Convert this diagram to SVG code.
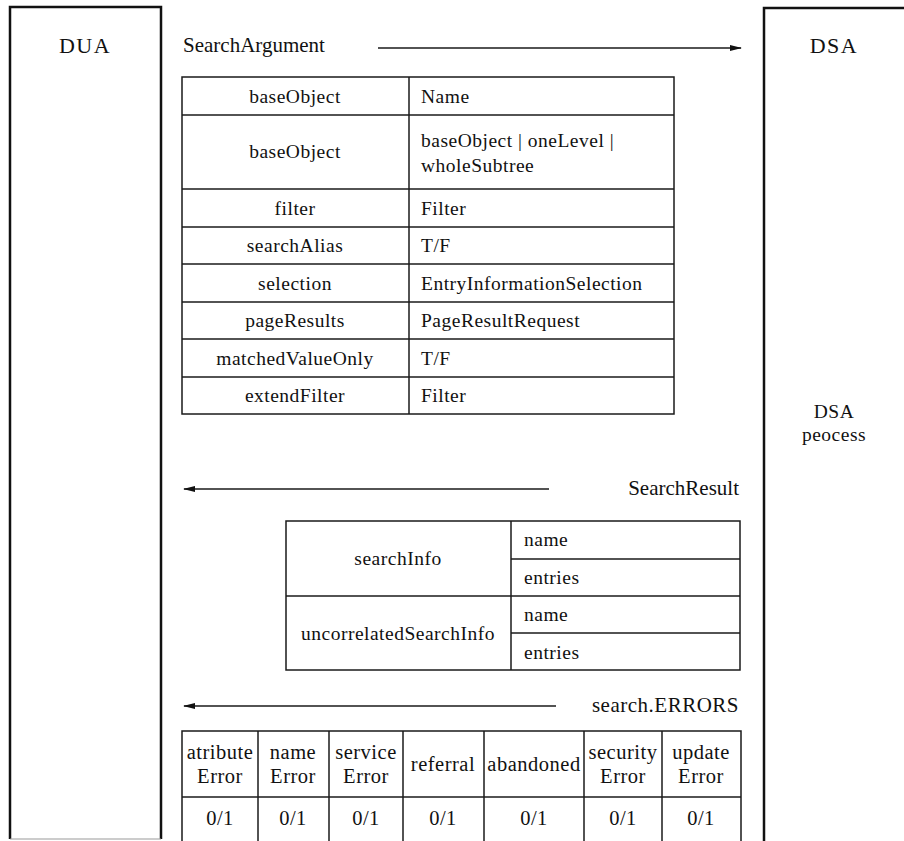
<svg xmlns="http://www.w3.org/2000/svg" width="904" height="841" viewBox="0 0 904 841" font-family="'Liberation Serif', 'DejaVu Serif', serif">
  <style>
    .box { fill: none; stroke: #111; stroke-width: 2.5; }
    .grid { fill: none; stroke: #1a1a1a; stroke-width: 1.5; }
    .wire { fill: none; stroke: #1a1a1a; stroke-width: 1.3; }
    text { font-family: 'Liberation Serif', 'DejaVu Serif', serif; fill: #111; }
    .lbl { font-size: 21px; }
    .big { font-size: 22px; letter-spacing: 1.5px; }
    .cell { font-size: 19.5px; letter-spacing: 0.5px; }
    .err { font-size: 20.5px; letter-spacing: 0.5px; }
    .mid { text-anchor: middle; }
    .end { text-anchor: end; }
  </style>
  <defs>
    <marker id="head" markerWidth="12" markerHeight="8" refX="11" refY="4" orient="auto" markerUnits="userSpaceOnUse">
      <path d="M0,1 L12,4 L0,7 Z" fill="#111"/>
    </marker>
  </defs>

  <rect width="904" height="841" fill="#fff"/>

  <!-- DUA column -->
  <g id="dua">
    <path class="box" d="M10,839 V7 H161 V839"/>
    <line x1="10" y1="839" x2="161" y2="839" stroke="#999" stroke-width="1"/>
    <text class="big mid" x="85" y="53">DUA</text>
  </g>

  <!-- DSA column -->
  <g id="dsa">
    <path class="box" d="M764,841 V8 H904"/>
    <text class="big mid" x="834" y="53">DSA</text>
    <text class="cell mid" x="834" y="418">DSA</text>
    <text class="cell mid" x="834" y="441">peocess</text>
  </g>

  <!-- message flows -->
  <g id="connectors">
    <line class="wire" x1="378" y1="48" x2="741" y2="48" marker-end="url(#head)"/>
    <line class="wire" x1="549" y1="489" x2="184" y2="489" marker-end="url(#head)"/>
    <line class="wire" x1="556" y1="706" x2="184" y2="706" marker-end="url(#head)"/>
  </g>

  <!-- SearchArgument -->
  <g id="search-argument">
    <text class="lbl" x="183" y="52">SearchArgument</text>
    <rect class="grid" x="182" y="77" width="492" height="337"/>
    <line class="grid" x1="409" y1="77" x2="409" y2="414"/>
    <line class="grid" x1="182" y1="115" x2="674" y2="115"/>
    <line class="grid" x1="182" y1="189" x2="674" y2="189"/>
    <line class="grid" x1="182" y1="227" x2="674" y2="227"/>
    <line class="grid" x1="182" y1="264" x2="674" y2="264"/>
    <line class="grid" x1="182" y1="302" x2="674" y2="302"/>
    <line class="grid" x1="182" y1="339" x2="674" y2="339"/>
    <line class="grid" x1="182" y1="377" x2="674" y2="377"/>
    <text class="cell mid" x="295" y="103">baseObject</text>
    <text class="cell" x="421" y="103">Name</text>
    <text class="cell mid" x="295" y="158">baseObject</text>
    <text class="cell" x="421" y="147">baseObject | oneLevel |</text>
    <text class="cell" x="421" y="172">wholeSubtree</text>
    <text class="cell mid" x="295" y="215">filter</text>
    <text class="cell" x="421" y="215">Filter</text>
    <text class="cell mid" x="295" y="252">searchAlias</text>
    <text class="cell" x="421" y="252">T/F</text>
    <text class="cell mid" x="295" y="290">selection</text>
    <text class="cell" x="421" y="290">EntryInformationSelection</text>
    <text class="cell mid" x="295" y="327">pageResults</text>
    <text class="cell" x="421" y="327">PageResultRequest</text>
    <text class="cell mid" x="295" y="365">matchedValueOnly</text>
    <text class="cell" x="421" y="365">T/F</text>
    <text class="cell mid" x="295" y="402">extendFilter</text>
    <text class="cell" x="421" y="402">Filter</text>
  </g>

  <!-- SearchResult -->
  <g id="search-result">
    <text class="lbl end" x="739" y="495">SearchResult</text>
    <rect class="grid" x="286" y="521" width="454" height="149"/>
    <line class="grid" x1="511" y1="521" x2="511" y2="670"/>
    <line class="grid" x1="286" y1="596" x2="740" y2="596"/>
    <line class="grid" x1="511" y1="559" x2="740" y2="559"/>
    <line class="grid" x1="511" y1="633" x2="740" y2="633"/>
    <text class="cell mid" x="398" y="565">searchInfo</text>
    <text class="cell" x="524" y="546">name</text>
    <text class="cell" x="524" y="584">entries</text>
    <text class="cell mid" x="398" y="640">uncorrelatedSearchInfo</text>
    <text class="cell" x="524" y="621">name</text>
    <text class="cell" x="524" y="659">entries</text>
  </g>

  <!-- search.ERRORS -->
  <g id="search-errors">
    <text class="lbl end" x="739" y="712" letter-spacing="0.5">search.ERRORS</text>
    <path class="grid" d="M182,841 V731 H741 V841"/>
    <line class="grid" x1="182" y1="797" x2="741" y2="797"/>
    <line class="grid" x1="258" y1="731" x2="258" y2="841"/>
    <line class="grid" x1="329" y1="731" x2="329" y2="841"/>
    <line class="grid" x1="403" y1="731" x2="403" y2="841"/>
    <line class="grid" x1="484" y1="731" x2="484" y2="841"/>
    <line class="grid" x1="584" y1="731" x2="584" y2="841"/>
    <line class="grid" x1="662" y1="731" x2="662" y2="841"/>
    <text class="err mid" x="220" y="759">atribute</text>
    <text class="err mid" x="220" y="783">Error</text>
    <text class="err mid" x="293" y="759">name</text>
    <text class="err mid" x="293" y="783">Error</text>
    <text class="err mid" x="366" y="759">service</text>
    <text class="err mid" x="366" y="783">Error</text>
    <text class="err mid" x="443" y="771">referral</text>
    <text class="err mid" x="534" y="771">abandoned</text>
    <text class="err mid" x="623" y="759">security</text>
    <text class="err mid" x="623" y="783">Error</text>
    <text class="err mid" x="701" y="759">update</text>
    <text class="err mid" x="701" y="783">Error</text>
    <text class="err mid" x="220" y="825">0/1</text>
    <text class="err mid" x="293" y="825">0/1</text>
    <text class="err mid" x="366" y="825">0/1</text>
    <text class="err mid" x="443" y="825">0/1</text>
    <text class="err mid" x="534" y="825">0/1</text>
    <text class="err mid" x="623" y="825">0/1</text>
    <text class="err mid" x="701" y="825">0/1</text>
  </g>
</svg>
